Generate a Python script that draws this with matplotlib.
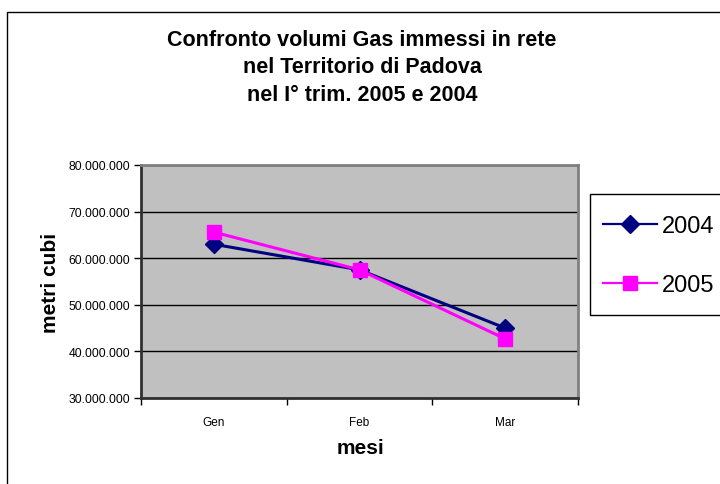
import matplotlib
matplotlib.use("Agg")
import matplotlib.pyplot as plt
from matplotlib.ticker import FixedLocator, FuncFormatter
from matplotlib.lines import Line2D
from matplotlib.patches import Rectangle

plt.rcParams['font.family'] = ['Liberation Sans', 'DejaVu Sans']

mesi = ['Gen', 'Feb', 'Mar']
vol_2004 = [63000000, 57500000, 45000000]
vol_2005 = [65600000, 57500000, 42700000]

W, H = 720, 485
fig = plt.figure(figsize=(W / 100, H / 100), dpi=100)
fig.patch.set_facecolor('white')

# outer chart border (cut off on right and bottom)
fig.patches.append(Rectangle((7 / W, -0.2), 2, 1 - 13 / H + 0.2, transform=fig.transFigure,
                             fill=False, edgecolor='black', lw=1.0))

ax = fig.add_axes([141 / W, 1 - 399 / H, (578 - 141) / W, (399 - 166) / H])
ax.set_facecolor('#c0c0c0')

x = list(range(len(mesi)))
ax.plot(x, vol_2004, color='#000080', lw=2.2, marker='D', markersize=9, label='2004', zorder=3)
ax.plot(x, vol_2005, color='#ff00ff', lw=2.2, marker='s', markersize=10, label='2005', zorder=4)

ax.set_xlim(-0.5, 2.5)
ax.set_ylim(30000000, 80000000)
ax.set_yticks(range(30000000, 80000001, 10000000))
ax.yaxis.set_major_formatter(FuncFormatter(lambda v, p: f"{v:,.0f}".replace(',', '.')))
ax.yaxis.grid(True, color='black', lw=1.0)
ax.set_axisbelow(True)

ax.xaxis.set_major_locator(FixedLocator([-0.5, 0.5, 1.5, 2.5]))
ax.xaxis.set_major_formatter(FuncFormatter(lambda v, p: ''))
ax.xaxis.set_minor_locator(FixedLocator(x))
ax.set_xticklabels(mesi, minor=True)
ax.tick_params(axis='x', which='major', direction='out', length=5, width=1, color='black')
ax.tick_params(axis='x', which='minor', length=0, pad=13, labelsize=8.5)
ax.tick_params(axis='y', direction='out', length=5, width=1, pad=3, labelsize=8.8)

for s in ['left', 'bottom']:
    ax.spines[s].set_color('#303030')
    ax.spines[s].set_linewidth(2)
for s in ['top', 'right']:
    ax.spines[s].set_color('#808080')
    ax.spines[s].set_linewidth(2)

fig.text(362 / W, 1 - 68 / H,
         "Confronto volumi Gas immessi in rete\nnel Territorio di Padova\nnel I\u00b0 trim. 2005 e 2004",
         ha='center', va='center', fontsize=15.5, fontweight='bold', linespacing=1.38)
fig.text(51 / W, 1 - 283 / H, 'metri cubi', rotation=90, ha='center', va='center',
         fontsize=15, fontweight='bold')
fig.text(360 / W, 1 - 448 / H, 'mesi', ha='center', va='center', fontsize=15, fontweight='bold')

# legend: frame drawn separately, it runs past the right edge
fig.patches.append(Rectangle((590 / W, 1 - 316 / H), 0.3, (316 - 195) / H, transform=fig.transFigure,
                             facecolor='white', edgecolor='black', lw=1.0))
handles = [Line2D([], [], color='#000080', lw=1.6, marker='D', markersize=9),
           Line2D([], [], color='#ff00ff', lw=1.6, marker='s', markersize=10)]
leg = fig.legend(handles, ['2004', '2005'], loc='center left',
                 bbox_to_anchor=(603 / W, 1 - 256.5 / H), bbox_transform=fig.transFigure,
                 fontsize=17, frameon=False, borderaxespad=0, borderpad=0,
                 labelspacing=1.55, handlelength=2.3, handletextpad=0.2)

fig.savefig('out.png', dpi=100)
